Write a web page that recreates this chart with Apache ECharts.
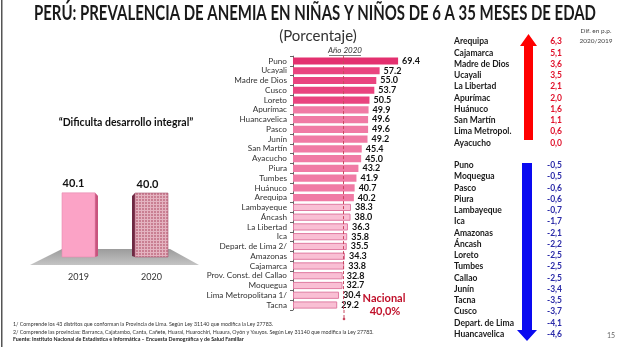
<!DOCTYPE html>
<html><head><meta charset="utf-8">
<script src="https://cdn.jsdelivr.net/npm/echarts@6/dist/echarts.min.js"></script>
<style>html,body{margin:0;padding:0;background:#fff}#c{width:620px;height:347px}</style>
</head><body><div id="c"></div>
<script>
// Main chart: Año 2020 by department
const categories = ['Puno','Ucayali','Madre de Dios','Cusco','Loreto','Apurímac','Huancavelica','Pasco','Junín','San Martín','Ayacucho','Piura','Tumbes','Huánuco','Arequipa','Lambayeque','Áncash','La Libertad','Ica','Depart. de Lima 2/','Amazonas','Cajamarca','Prov. Const. del Callao','Moquegua','Lima Metropolitana 1/','Tacna'];
const values2020 = [69.4,57.2,55.0,53.7,50.5,49.9,49.6,49.6,49.2,45.4,45.0,43.2,41.9,40.7,40.2,38.3,38.0,36.3,35.8,35.5,34.3,33.8,32.8,32.7,30.4,29.2];
const nationalLinePos = 33.5; // where the dashed reference line is drawn in the source
// National totals
const years = ['2019','2020'];
const nationalValues = [40.1, 40.0];
// Difference 2020/2019 (p.p.)
const upNames = ['Arequipa','Cajamarca','Madre de Dios','Ucayali','La Libertad','Apurímac','Huánuco','San Martín','Lima Metropol.','Ayacucho'];
const upValues = [6.3,5.1,3.6,3.5,2.1,2.0,1.6,1.1,0.6,0.0];
const downNames = ['Puno','Moquegua','Pasco','Piura','Lambayeque','Ica','Amazonas','Áncash','Loreto','Tumbes','Callao','Junín','Tacna','Cusco','Depart. de Lima','Huancavelica'];
const downValues = [-0.5,-0.5,-0.6,-0.6,-0.7,-1.7,-2.1,-2.2,-2.5,-2.5,-2.5,-3.4,-3.5,-3.7,-4.1,-4.6];

const FONT = 'Lato';
const TITLE = 'PERÚ: PREVALENCIA DE ANEMIA EN NIÑAS Y NIÑOS DE 6 A 35 MESES DE EDAD';
const chart = echarts.init(document.getElementById('c'), null, {renderer:'canvas'});

// horizontal condensation for the title (source font is narrower than Lato)
const mc = document.createElement('canvas').getContext('2d');
mc.font = 'bold 20px ' + FONT;
const titleScale = 562 / mc.measureText(TITLE).width;

function barColor(i){
  if (i === 0) return '#E3306F';
  if (i < 5) return '#E9447F';
  if (i <= 14) return '#F07BA5';
  return '#F9BFD4';
}
const mainData = values2020.map((v,i)=>({value:v, itemStyle:{color:barColor(i), borderColor: i>14 ? '#E07BA2' : barColor(i), borderWidth: i>14 ? 1 : 0}}));

// pattern for 2020 bar
const pc = document.createElement('canvas'); pc.width = 3; pc.height = 3;
const pctx = pc.getContext('2d');
pctx.fillStyle = '#C97F92'; pctx.fillRect(0,0,3,3);
pctx.fillStyle = '#E4B3C0'; pctx.fillRect(0,0,1,3); pctx.fillRect(0,0,3,1);

const diffNames = upNames.concat([''], downNames);
const fmt = v => v.toFixed(1).replace('.', ',');
const diffLabels = upValues.map(fmt).concat([''], downValues.map(fmt));
const diffVals = upValues.concat([null], downValues);

const option = {
  animation:false,
  textStyle:{fontFamily:FONT},
  title:[
    {text:'(Porcentaje)', left:313, textAlign:'center', top:24, textStyle:{fontFamily:FONT, fontSize:15, fontWeight:'normal', color:'#333'}}
  ],
  grid:[
    {left:293, top:56.1, width:106, height:253.8},
    {left:42, top:161, width:146, height:96},
    {left:453, top:36.1, width:110, height:303.75}
  ],
  xAxis:[
    {gridIndex:0, type:'value', min:0, max:70, show:false},
    {gridIndex:1, type:'category', data:years, axisLine:{show:false}, axisTick:{show:false},
     axisLabel:{margin:16, fontSize:9, color:'#333', fontFamily:FONT}},
    {gridIndex:2, type:'value', min:-10, max:10, show:false}
  ],
  yAxis:[
    {gridIndex:0, type:'category', data:categories, inverse:true,
     axisLine:{lineStyle:{color:'#666', width:1}}, axisTick:{show:true, length:3, lineStyle:{color:'#666'}},
     axisLabel:{interval:0, fontSize:8.2, color:'#333', margin:6, fontFamily:FONT}},
    {gridIndex:1, type:'value', min:0, max:60, show:false},
    {gridIndex:2, type:'category', data:diffNames, inverse:true, position:'left',
     axisLine:{show:false}, axisTick:{show:false},
     axisLabel:{interval:0, align:'left', margin:-1, fontSize:8.5, fontWeight:'bold', color:'#1a1a1a', fontFamily:FONT}},
    {gridIndex:2, type:'category', data:diffLabels, inverse:true, position:'right',
     axisLine:{show:false}, axisTick:{show:false},
     axisLabel:{interval:0, align:'right', margin:-1, fontSize:8.5, fontFamily:FONT,
       formatter: v => v === '' ? '' : (v.charAt(0)==='-' ? '{n|'+v+'}' : '{p|'+v+'}'),
       rich:{p:{color:'#E0102A', fontWeight:'bold', fontSize:8.5, fontFamily:FONT},
             n:{color:'#2A2AA8', fontWeight:'bold', fontSize:8.5, fontFamily:FONT}}}}
  ],
  series:[
    {type:'bar', xAxisIndex:0, yAxisIndex:0, data:mainData, barWidth:7.2,
     label:{show:true, position:'right', distance:4, fontSize:9, fontWeight:'bold', color:'#111', fontFamily:FONT, formatter:p=>p.value.toFixed(1)},
     markLine:{silent:true, symbol:['none','none'], label:{show:false},
       lineStyle:{color:'#C84860', type:[3,2], width:1},
       data:[{xAxis:nationalLinePos}]}},
    {type:'custom', xAxisIndex:1, yAxisIndex:1, data:nationalValues.map((v,i)=>[i,v]),
     renderItem:function(params, api){
       const i = api.value(0);
       const top = api.coord([i, api.value(1)]);
       const base = api.coord([i, 0]);
       const w = 33, d = 3;
       const x0 = top[0]-w/2, x1 = top[0]+w/2;
       const h = base[1]-top[1];
       const children = [];
       if (i === 0){
         children.push({type:'polygon', shape:{points:[[x1,top[1]],[x1+d,top[1]+d],[x1+d,base[1]-1],[x1,base[1]]]}, style:{fill:'#C8547E'}});
         children.push({type:'rect', shape:{x:x0, y:top[1], width:w, height:h}, style:{fill:'#FBA3C6', stroke:'#E889B0', lineWidth:0.6}});
       } else {
         children.push({type:'polygon', shape:{points:[[x0,top[1]],[x0-d,top[1]+d],[x0-d,base[1]-1],[x0,base[1]]]}, style:{fill:'#6E2A44'}});
         children.push({type:'rect', shape:{x:x0, y:top[1], width:w, height:h}, style:{fill:{image:pc, repeat:'repeat'}, stroke:'#A8566F', lineWidth:0.6}});
       }
       children.push({type:'text', style:{text:api.value(1).toFixed(1), x:top[0]-(i===0?5:4), y:top[1]-9, align:'center', verticalAlign:'middle',
         font:'bold 11px '+FONT, fill:'#111'}});
       return {type:'group', children:children};
     }, z:3},
    {type:'scatter', xAxisIndex:2, yAxisIndex:2, data:diffVals, symbolSize:0, silent:true}
  ],
  graphic:[
    {type:'text', x:315, y:14, scaleX:titleScale, style:{text:TITLE, x:0, y:0, align:'center', verticalAlign:'middle', font:'bold 20px '+FONT, fill:'#1a1a1a'}},
    {type:'rect', shape:{x:1, y:0, width:1.5, height:347}, style:{fill:'#555'}},
    {type:'polygon', shape:{points:[[62,249],[170,249],[199,265],[30,265]]}, z:-1,
     style:{fill:new echarts.graphic.LinearGradient(0,0,0,1,[{offset:0,color:'#9C9C9C'},{offset:1,color:'#C4C4C4'}])}},
    {type:'text', style:{text:'\u201CDificulta desarrollo integral\u201D', x:126, y:123, align:'center', verticalAlign:'middle', font:'bold 10.5px '+FONT, fill:'#111'}},
    {type:'text', style:{text:'Año 2020', x:345, y:50, align:'center', verticalAlign:'middle', font:'italic 8px '+FONT, fill:'#333'}},
    {type:'rect', shape:{x:329, y:55, width:32, height:0.7}, style:{fill:'#444'}},
    {type:'circle', shape:{cx:344, cy:319, r:1.3}, style:{fill:'#C84860'}},
    {type:'line', shape:{x1:344, y1:310, x2:344, y2:318}, style:{stroke:'#C84860', lineWidth:1, lineDash:[3,2]}},
    {type:'text', style:{text:'Nacional', x:384, y:298, align:'center', verticalAlign:'middle', font:'bold 11px '+FONT, fill:'#C0102A'}},
    {type:'text', style:{text:'40,0%', x:385, y:311, align:'center', verticalAlign:'middle', font:'bold 11px '+FONT, fill:'#C0102A'}},
    {type:'text', style:{text:'Dif. en p.p.', x:596, y:31, align:'center', verticalAlign:'middle', font:'6.5px '+FONT, fill:'#444'}},
    {type:'text', style:{text:'2020/2019', x:596, y:41, align:'center', verticalAlign:'middle', font:'6.5px '+FONT, fill:'#444'}},
    {type:'polygon', shape:{points:[[520,46],[524,46],[524,140],[533,140],[533,46],[537,46],[528.5,34]]}, style:{fill:'#FF0000'}},
    {type:'polygon', shape:{points:[[522,163],[532,163],[532,330],[537,330],[527,341],[517,330],[522,330]]}, style:{fill:'#0A0AF0'}},
    {type:'text', style:{text:'15', x:611, y:336, align:'center', verticalAlign:'middle', font:'7px '+FONT, fill:'#666'}},
    {type:'text', style:{text:'1/ Comprende los 43 distritos que conforman la Provincia de Lima. Según Ley 31140 que modifica la Ley 27783.', x:13, y:324, verticalAlign:'middle', font:'5.3px '+FONT, fill:'#333'}},
    {type:'text', style:{text:'2/ Comprende las provincias: Barranca, Cajatambo, Canta, Cañete, Huaral, Huarochirí, Huaura, Oyón y Yauyos. Según Ley 31140 que modifica la Ley 27783.', x:13, y:332, verticalAlign:'middle', font:'5.3px '+FONT, fill:'#333'}},
    {type:'text', style:{text:'Fuente: Instituto Nacional de Estadística e Informática \u2013 Encuesta Demográfica y de Salud Familiar', x:13, y:339.5, verticalAlign:'middle', font:'bold 5.3px '+FONT, fill:'#222'}}
  ]
};
chart.setOption(option);
</script></body></html>
